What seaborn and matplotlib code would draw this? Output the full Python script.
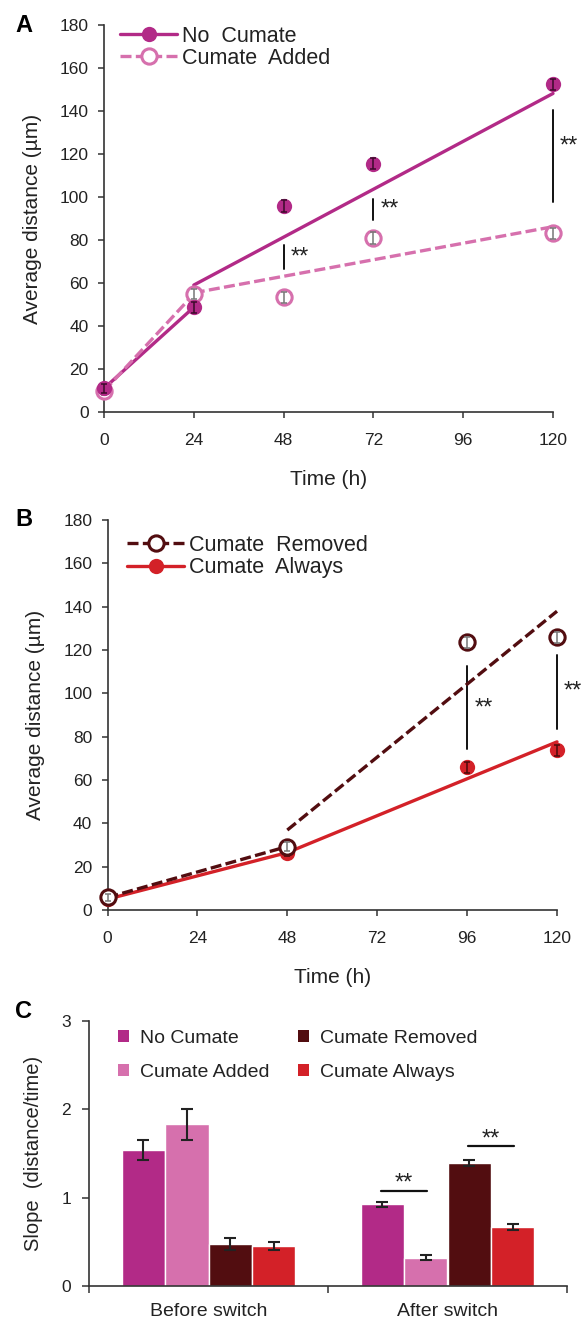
import matplotlib
matplotlib.use("Agg")
import matplotlib.pyplot as plt
import seaborn as sns
import pandas as pd
import numpy as np
from matplotlib.lines import Line2D
from matplotlib.patches import Patch

# ---- Panel A: No Cumate vs Cumate Added ----
times_a = [0, 24, 48, 72, 120]
no_cumate_a = [11.2, 48.9, 95.9, 115.5, 152.4]
no_cumate_a_err = [2.0, 2.5, 2.7, 2.6, 2.4]
added_a = [10.0, 55.0, 53.6, 81.0, 83.2]
added_a_err = [2.0, 2.5, 2.6, 2.8, 2.5]
fit_times_a = [24, 120]
no_cumate_fit_a = [59.2, 148.2]
added_fit_a = [55.6, 86.3]
sig_times_a = [48, 72, 120]
sig_low_a = [66.6, 89.4, 97.9]
sig_high_a = [77.8, 99.0, 140.5]
star_y_a = [72.0, 94.2, 123.4]

# ---- Panel B: Cumate Removed vs Cumate Always ----
times_b = [0, 48, 96, 120]
removed_b = [5.8, 29.3, 123.6, 125.9]
removed_b_err = [1.5, 2.0, 2.5, 2.5]
always_b = [5.0, 26.5, 65.8, 73.8]
always_b_err = [1.5, 1.5, 2.5, 2.5]
fit_times_b = [48, 120]
removed_fit_b = [36.9, 137.9]
always_fit_b = [26.5, 77.6]
sig_times_b = [96, 120]
sig_low_b = [74.5, 83.7]
sig_high_b = [112.6, 117.5]
star_y_b = [92.8, 100.8]

# ---- Panel C: slopes ----
groups = ["Before switch", "After switch"]
conditions = ["No Cumate", "Cumate Added", "Cumate Removed", "Cumate Always"]
slope_before = [1.54, 1.83, 0.475, 0.453]
slope_after = [0.925, 0.32, 1.39, 0.67]
err_before = [0.11, 0.175, 0.065, 0.05]
err_after = [0.03, 0.03, 0.035, 0.035]

colors = {"No Cumate": "#B22A87", "Cumate Added": "#D670AD",
          "Cumate Removed": "#520D10", "Cumate Always": "#D32128"}

sns.set_style("ticks")
plt.rcParams['font.family'] = ['Liberation Sans', 'DejaVu Sans']
plt.rcParams['axes.edgecolor'] = '#333333'
plt.rcParams['xtick.color'] = '#333333'
plt.rcParams['ytick.color'] = '#333333'
plt.rcParams['text.color'] = '#222222'
plt.rcParams['axes.labelcolor'] = '#222222'

W, H = 582, 1322
fig = plt.figure(figsize=(W / 100, H / 100), dpi=100)


def px_axes(left, top, right, bottom):
    return fig.add_axes([left / W, 1 - bottom / H, (right - left) / W, (bottom - top) / H])


def style_time_axis(ax, ylab_x):
    ax.set_xlim(0, 120)
    ax.set_ylim(0, 180)
    ax.set_xticks(range(0, 121, 24))
    ax.set_yticks(range(0, 181, 20))
    ax.tick_params(axis='both', labelsize=12.5, length=4, width=1.1, colors='#333333',
                   labelcolor='#222222')
    ax.tick_params(axis='x', pad=11)
    ax.tick_params(axis='y', pad=7)
    for s in ['top', 'right']:
        ax.spines[s].set_visible(False)
    for s in ['left', 'bottom']:
        ax.spines[s].set_linewidth(1.2)
    ax.set_xlabel("Time (h)", fontsize=15)
    ax.set_ylabel("Average distance (\u00b5m)", fontsize=15)
    ax.xaxis.set_label_coords(0.5, -0.148)
    ax.yaxis.set_label_coords(ylab_x, 0.5)
    for ln in ax.lines:
        ln.set_clip_on(False)


def points(ax, x, y, err, color, filled, ecolor, z):
    ax.plot(x, y, linestyle='none', marker='o', ms=11, clip_on=False,
            mfc=color if filled else 'white', mec=color, mew=0 if filled else 2.2, zorder=z)
    eb = ax.errorbar(x, y, yerr=err, fmt='none', ecolor=ecolor, elinewidth=1.1,
                     capsize=2.5, capthick=1.1, zorder=z + 0.5)
    for a in eb.get_children():
        a.set_clip_on(False)


LW = 2.4
DASH = (3.3, 1.3)
STAR = 17

# ================= Panel A =================
axA = px_axes(104, 25, 553, 412.5)
sns.lineplot(x=times_a[:2], y=no_cumate_a[:2], color=colors["No Cumate"], lw=LW, ax=axA, zorder=3)
sns.lineplot(x=fit_times_a, y=no_cumate_fit_a, color=colors["No Cumate"], lw=LW, ax=axA, zorder=3)
sns.lineplot(x=times_a[:2], y=added_a[:2], color=colors["Cumate Added"], lw=LW, ax=axA, zorder=4)
axA.lines[-1].set_dashes(DASH)
sns.lineplot(x=fit_times_a, y=added_fit_a, color=colors["Cumate Added"], lw=LW, ax=axA, zorder=4)
axA.lines[-1].set_dashes(DASH)
points(axA, times_a, added_a, added_a_err, colors["Cumate Added"], False, '#777777', 5)
points(axA, times_a, no_cumate_a, no_cumate_a_err, colors["No Cumate"], True, '#3a0a2a', 6)
for t, lo, hi, sy in zip(sig_times_a, sig_low_a, sig_high_a, star_y_a):
    axA.plot([t, t], [lo, hi], color='#111111', lw=1.4, zorder=2)
    axA.text(t + 1.9, sy, "**", fontsize=STAR, ha='left', va='center', clip_on=False)
style_time_axis(axA, -0.138)
hA = [Line2D([], [], color=colors["No Cumate"], lw=LW, marker='o', ms=11, mew=0),
      Line2D([], [], color=colors["Cumate Added"], lw=LW, dashes=DASH, marker='o', ms=11,
             mfc='white', mew=2.2)]
axA.legend(hA, ["No  Cumate", "Cumate  Added"], loc='upper left',
           bbox_to_anchor=(120 / W, 1 - 25.5 / H), bbox_transform=fig.transFigure,
           frameon=False, fontsize=15.5, borderpad=0, borderaxespad=0,
           handlelength=2.65, handletextpad=0.25, labelspacing=0.05)

# ================= Panel B =================
axB = px_axes(107.5, 520, 557, 910)
sns.lineplot(x=times_b[:2], y=always_b[:2], color=colors["Cumate Always"], lw=LW, ax=axB, zorder=3)
sns.lineplot(x=fit_times_b, y=always_fit_b, color=colors["Cumate Always"], lw=LW, ax=axB, zorder=3)
sns.lineplot(x=times_b[:2], y=removed_b[:2], color=colors["Cumate Removed"], lw=LW, ax=axB, zorder=4)
axB.lines[-1].set_dashes(DASH)
sns.lineplot(x=fit_times_b, y=removed_fit_b, color=colors["Cumate Removed"], lw=LW, ax=axB, zorder=4)
axB.lines[-1].set_dashes(DASH)
points(axB, times_b, always_b, always_b_err, colors["Cumate Always"], True, '#4a0a0a', 5)
points(axB, times_b, removed_b, removed_b_err, colors["Cumate Removed"], False, '#777777', 6)
for t, lo, hi, sy in zip(sig_times_b, sig_low_b, sig_high_b, star_y_b):
    axB.plot([t, t], [lo, hi], color='#111111', lw=1.4, zorder=2)
    axB.text(t + 1.9, sy, "**", fontsize=STAR, ha='left', va='center', clip_on=False)
style_time_axis(axB, -0.14)
hB = [Line2D([], [], color=colors["Cumate Removed"], lw=LW, dashes=DASH, marker='o', ms=11,
             mfc='white', mew=2.2),
      Line2D([], [], color=colors["Cumate Always"], lw=LW, marker='o', ms=11, mew=0)]
axB.legend(hB, ["Cumate  Removed", "Cumate  Always"], loc='upper left',
           bbox_to_anchor=(127 / W, 1 - 535 / H), bbox_transform=fig.transFigure,
           frameon=False, fontsize=15.5, borderpad=0, borderaxespad=0,
           handlelength=2.65, handletextpad=0.25, labelspacing=0.05)

# ================= Panel C =================
axC = px_axes(89, 1021, 567, 1286)
df = pd.DataFrame({
    "group": [groups[0]] * 4 + [groups[1]] * 4,
    "condition": conditions * 2,
    "slope": slope_before + slope_after,
    "err": err_before + err_after,
})
sns.barplot(data=df, x="group", y="slope", hue="condition", hue_order=conditions,
            palette=colors, width=0.726, gap=0, errorbar=None, saturation=1,
            legend=False, ax=axC)
centers = {}
for cond, cont in zip(conditions, axC.containers):
    for g, bar in zip(groups, cont):
        cx = bar.get_x() + bar.get_width() / 2
        centers[(g, cond)] = cx
        e = df[(df.group == g) & (df.condition == cond)]["err"].iloc[0]
        axC.errorbar(cx, bar.get_height(), yerr=e, fmt='none', ecolor='#222222',
                     elinewidth=1.5, capsize=4, capthick=1.5, zorder=5)
# significance in "After switch"
for (c1, c2, ly, sy) in [("No Cumate", "Cumate Added", 1.075, 1.165),
                         ("Cumate Removed", "Cumate Always", 1.585, 1.655)]:
    x1 = centers[(groups[1], c1)] - 0.005
    x2 = centers[(groups[1], c2)] + 0.005
    axC.plot([x1, x2], [ly, ly], color='#111111', lw=1.6)
    axC.text((x1 + x2) / 2, sy, "**", fontsize=STAR, ha='center', va='center')

axC.set_xlim(-0.5, 1.5)
axC.set_ylim(0, 3)
axC.set_yticks([0, 1, 2, 3])
axC.set_xticks([-0.5, 0.5, 1.5], minor=True)
axC.tick_params(axis='x', which='major', length=0, pad=12, labelsize=14, labelcolor='#222222')
axC.tick_params(axis='x', which='minor', length=5, width=1.1)
axC.tick_params(axis='y', length=5, width=1.1, pad=8, labelsize=12.5, labelcolor='#222222')
for s in ['top', 'right']:
    axC.spines[s].set_visible(False)
for s in ['left', 'bottom']:
    axC.spines[s].set_linewidth(1.2)
axC.set_xlabel("")
axC.set_ylabel("Slope  (distance/time)", fontsize=14.5)
axC.yaxis.set_label_coords(-0.096, 0.5)
hC = [Patch(facecolor=colors[c], edgecolor='none') for c in conditions]
axC.legend(hC, conditions, ncol=2, loc='upper left',
           bbox_to_anchor=(118 / W, 1 - 1030 / H), bbox_transform=fig.transFigure,
           frameon=False, fontsize=14, borderpad=0, borderaxespad=0,
           handlelength=0.55, handleheight=0.55, handletextpad=0.6,
           labelspacing=0.86, columnspacing=1.45)

# panel letters
for lab, y in [("A", 32), ("B", 526), ("C", 1018)]:
    fig.text(15 / W, 1 - y / H, lab, fontsize=17, fontweight='bold', va='baseline',
             ha='left', color='black')

fig.savefig("out.png", dpi=100)
